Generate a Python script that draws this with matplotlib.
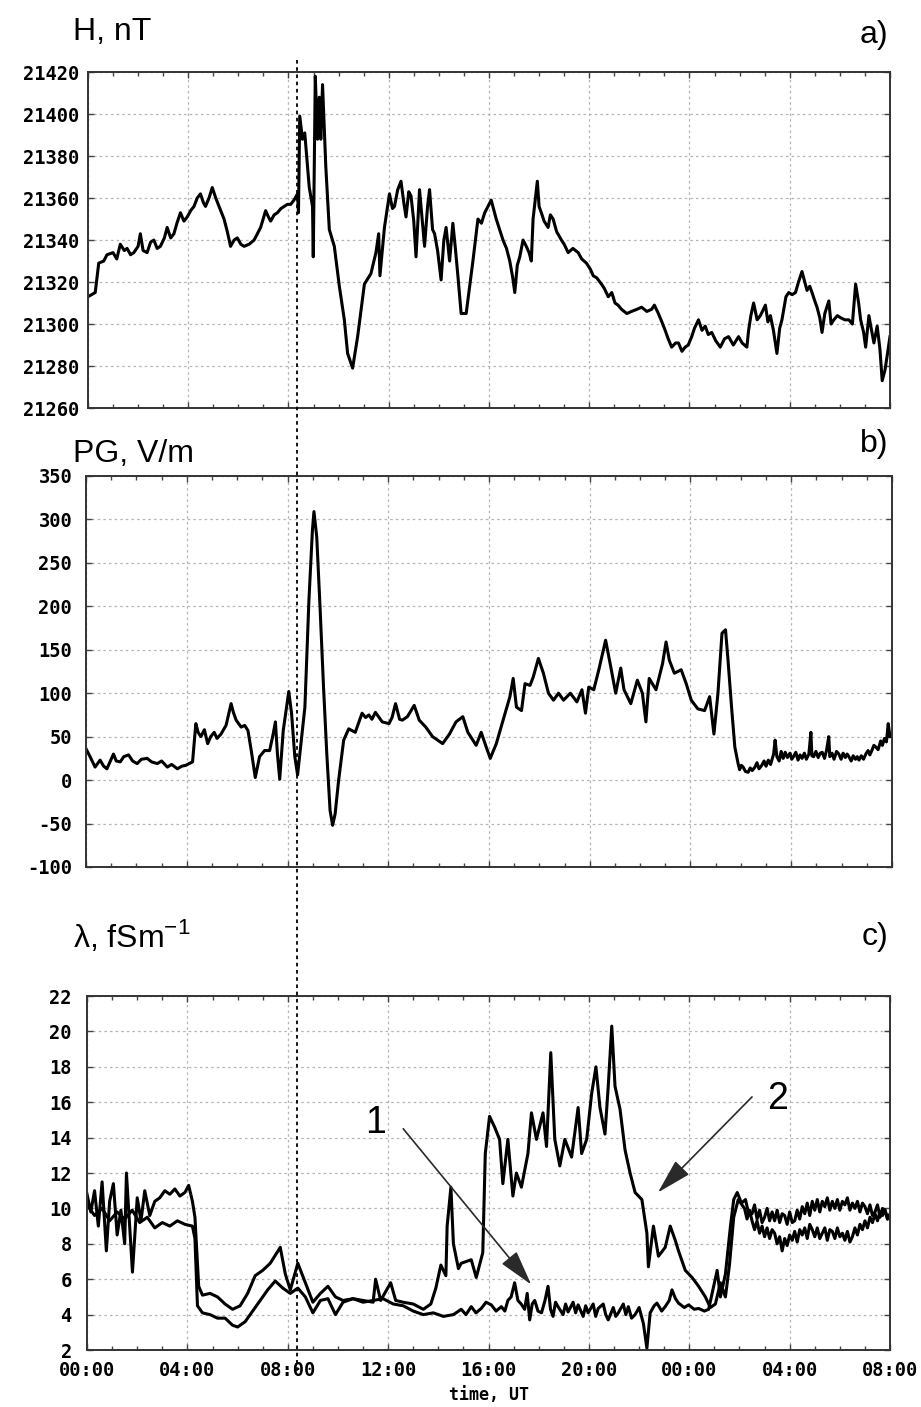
import matplotlib
matplotlib.use('Agg')
import matplotlib.pyplot as plt
import matplotlib.transforms as mtransforms
from matplotlib.lines import Line2D

plt.rcParams['font.family'] = ['Liberation Sans', 'DejaVu Sans']
plt.rcParams['mathtext.fontset'] = 'custom'
plt.rcParams['mathtext.rm'] = 'Liberation Sans'

###############################################################################################
# Data: (hours from 00:00 UT of day 1, value)

# a) H component, nT
h_points = [
    (0.0, 21313), (0.29, 21315), (0.43, 21329), (0.63, 21330), (0.76, 21333), (1.0, 21334),
    (1.15, 21331), (1.29, 21338), (1.45, 21335), (1.56, 21336), (1.7, 21333), (1.83, 21334),
    (2.0, 21337), (2.09, 21343), (2.2, 21335), (2.36, 21334), (2.5, 21339), (2.63, 21340),
    (2.76, 21336), (2.89, 21337), (3.05, 21341), (3.16, 21346), (3.3, 21341), (3.43, 21343),
    (3.55, 21348), (3.69, 21353), (3.83, 21349), (3.96, 21351), (4.1, 21354), (4.23, 21356),
    (4.36, 21360), (4.49, 21362), (4.6, 21358), (4.69, 21356), (4.83, 21360), (4.96, 21365),
    (5.1, 21360), (5.23, 21356), (5.43, 21350), (5.56, 21344), (5.69, 21337), (5.83, 21340),
    (5.96, 21341), (6.1, 21338), (6.23, 21337), (6.43, 21338), (6.63, 21340), (6.89, 21346),
    (7.09, 21354), (7.2, 21351), (7.29, 21349), (7.43, 21352), (7.56, 21353), (7.7, 21355),
    (7.83, 21356), (7.96, 21357), (8.09, 21357), (8.22, 21359), (8.36, 21362), (8.40, 21353),
    (8.45, 21399), (8.56, 21388), (8.65, 21391), (8.83, 21365), (8.96, 21356), (8.99, 21332),
    (9.07, 21418), (9.16, 21388), (9.23, 21408), (9.29, 21388), (9.36, 21414), (9.49, 21375),
    (9.63, 21345), (9.83, 21337), (10.03, 21318), (10.23, 21302), (10.36, 21286), (10.56, 21279),
    (10.76, 21294), (11.03, 21319), (11.29, 21324), (11.49, 21334), (11.6, 21343), (11.65, 21323),
    (11.83, 21346), (12.03, 21362), (12.15, 21355), (12.23, 21356), (12.36, 21364), (12.49, 21368),
    (12.6, 21358), (12.69, 21351), (12.8, 21363), (12.89, 21361), (13.0, 21349), (13.09, 21332),
    (13.23, 21364), (13.35, 21348), (13.43, 21337), (13.55, 21356), (13.63, 21364), (13.75, 21345),
    (13.83, 21343), (13.95, 21335), (14.09, 21321), (14.2, 21340), (14.29, 21346), (14.43, 21330),
    (14.56, 21348), (14.66, 21336), (14.76, 21323), (14.89, 21305), (15.09, 21305), (15.36, 21330),
    (15.56, 21350), (15.7, 21348), (15.83, 21353), (16.09, 21359), (16.29, 21350), (16.56, 21340),
    (16.7, 21336), (16.83, 21330), (16.95, 21322), (17.03, 21315), (17.13, 21328), (17.23, 21332),
    (17.36, 21340), (17.49, 21337), (17.6, 21334), (17.69, 21330), (17.76, 21350), (17.93, 21368),
    (18.0, 21356), (18.09, 21353), (18.2, 21349), (18.36, 21346), (18.45, 21352), (18.56, 21350),
    (18.7, 21344), (18.89, 21340), (19.0, 21338), (19.16, 21334), (19.35, 21336), (19.56, 21334),
    (19.7, 21331), (19.89, 21329), (20.05, 21326), (20.16, 21323), (20.3, 21322), (20.49, 21319),
    (20.6, 21317), (20.76, 21313), (20.9, 21315), (21.03, 21310), (21.15, 21309), (21.29, 21307),
    (21.5, 21305), (21.69, 21306), (21.9, 21307), (22.09, 21308), (22.3, 21306), (22.49, 21307),
    (22.6, 21309), (22.76, 21305), (22.9, 21301), (23.03, 21297), (23.15, 21293), (23.29, 21289),
    (23.45, 21291), (23.56, 21291), (23.7, 21287), (23.83, 21289), (23.95, 21290), (24.09, 21294),
    (24.2, 21298), (24.36, 21302), (24.5, 21297), (24.63, 21299), (24.75, 21295), (24.89, 21296),
    (25.05, 21292), (25.23, 21289), (25.4, 21293), (25.56, 21294), (25.75, 21290), (25.96, 21294),
    (26.1, 21291), (26.29, 21289), (26.36, 21297), (26.45, 21304), (26.56, 21310), (26.7, 21302),
    (26.83, 21304), (26.95, 21307), (27.03, 21309), (27.13, 21301), (27.23, 21304), (27.35, 21297),
    (27.49, 21286), (27.6, 21298), (27.69, 21302), (27.85, 21313), (27.96, 21315), (28.1, 21314),
    (28.23, 21315), (28.35, 21320), (28.49, 21325), (28.6, 21320), (28.69, 21316), (28.8, 21318),
    (28.89, 21315), (29.0, 21311), (29.09, 21308), (29.2, 21303), (29.29, 21296), (29.4, 21305),
    (29.56, 21311), (29.65, 21300), (29.76, 21302), (29.9, 21304), (30.03, 21303), (30.2, 21302),
    (30.36, 21302), (30.5, 21300), (30.63, 21319), (30.75, 21310), (30.83, 21302), (30.95, 21296),
    (31.03, 21289), (31.16, 21304), (31.25, 21298), (31.36, 21291), (31.49, 21299), (31.6, 21288),
    (31.69, 21273), (31.8, 21278), (31.89, 21285), (32.0, 21294),
]

# b) potential gradient, V/m
pg_points = [
    (0.0, 36), (0.16, 27), (0.36, 15), (0.56, 23), (0.7, 16), (0.83, 13), (1.0, 24), (1.09, 30),
    (1.2, 22), (1.36, 21), (1.5, 27), (1.69, 29), (1.85, 22), (2.03, 19), (2.2, 24), (2.43, 25),
    (2.6, 21), (2.83, 19), (3.0, 22), (3.23, 15), (3.4, 18), (3.63, 13), (3.8, 16), (3.96, 17),
    (4.23, 21), (4.36, 65), (4.45, 55), (4.56, 50), (4.7, 58), (4.83, 42), (4.95, 50), (5.09, 55),
    (5.2, 48), (5.36, 53), (5.56, 63), (5.76, 88), (5.85, 78), (5.96, 69), (6.16, 61), (6.3, 63),
    (6.43, 57), (6.56, 34), (6.72, 3), (6.89, 27), (7.09, 34), (7.29, 34), (7.43, 53), (7.52, 67),
    (7.60, 30), (7.69, 1), (7.83, 57), (7.96, 84), (8.05, 102), (8.16, 77), (8.29, 27), (8.40, 6),
    (8.49, 30), (8.69, 84), (8.85, 207), (8.99, 288), (9.05, 309), (9.16, 280), (9.29, 200),
    (9.43, 107), (9.56, 30), (9.69, -35), (9.79, -52), (9.89, -39), (10.03, 0), (10.23, 46),
    (10.43, 59), (10.69, 55), (10.96, 77), (11.1, 72), (11.23, 75), (11.35, 70), (11.49, 78),
    (11.76, 67), (12.03, 65), (12.15, 72), (12.29, 88), (12.45, 70), (12.56, 69), (12.76, 73),
    (13.03, 86), (13.23, 69), (13.49, 61), (13.76, 50), (13.96, 46), (14.16, 42), (14.43, 53),
    (14.69, 67), (14.96, 73), (15.16, 55), (15.36, 46), (15.49, 40), (15.69, 55), (15.89, 38),
    (16.05, 25), (16.29, 42), (16.56, 69), (16.83, 96), (16.96, 117), (17.09, 84), (17.29, 80),
    (17.43, 111), (17.63, 109), (17.76, 119), (17.96, 140), (18.16, 123), (18.36, 100), (18.56, 92),
    (18.76, 100), (18.96, 92), (19.23, 100), (19.49, 90), (19.69, 104), (19.83, 77), (19.96, 107),
    (20.16, 104), (20.36, 127), (20.63, 161), (20.83, 131), (21.03, 100), (21.23, 129), (21.36, 104),
    (21.63, 88), (21.89, 115), (22.09, 100), (22.23, 67), (22.36, 117), (22.63, 104), (22.89, 134),
    (23.03, 159), (23.16, 138), (23.36, 123), (23.63, 127), (23.83, 111), (24.03, 92), (24.29, 82),
    (24.56, 80), (24.76, 96), (24.93, 53), (25.09, 100), (25.25, 169), (25.39, 173), (25.49, 138),
    (25.63, 84), (25.76, 38), (25.89, 19), (25.95, 12), (26.02, 17), (26.09, 15), (26.18, 10),
    (26.29, 9), (26.37, 14), (26.45, 11), (26.56, 15), (26.64, 20), (26.72, 13), (26.83, 17),
    (26.92, 22), (27.0, 16), (27.09, 23), (27.18, 18), (27.3, 30), (27.36, 46), (27.43, 27),
    (27.52, 22), (27.6, 33), (27.68, 25), (27.76, 32), (27.85, 26), (27.95, 31), (28.02, 24),
    (28.09, 27), (28.18, 32), (28.27, 23), (28.35, 29), (28.43, 25), (28.52, 31), (28.6, 24),
    (28.7, 30), (28.78, 55), (28.82, 28), (28.89, 27), (28.98, 33), (29.07, 26), (29.15, 31),
    (29.23, 32), (29.32, 25), (29.4, 34), (29.49, 50), (29.53, 27), (29.62, 31), (29.7, 24),
    (29.8, 33), (29.89, 30), (29.98, 24), (30.06, 31), (30.15, 26), (30.22, 30), (30.29, 27),
    (30.38, 22), (30.46, 28), (30.55, 24), (30.62, 27), (30.69, 23), (30.78, 28), (30.87, 24),
    (30.96, 30), (31.05, 34), (31.12, 29), (31.2, 34), (31.28, 40), (31.36, 38), (31.45, 35),
    (31.55, 45), (31.62, 40), (31.7, 48), (31.78, 44), (31.85, 65), (31.92, 50), (32.0, 53),
]

# c) air conductivity, fS/m, curve 1
lam1_points = [
    (0.0, 10.2), (0.3, 9.6), (0.6, 10.0), (0.9, 9.3), (1.2, 9.8), (1.5, 9.4), (1.8, 9.9), (2.1, 9.2),
    (2.4, 9.5), (2.7, 8.9), (3.0, 9.2), (3.3, 9.0), (3.6, 9.3), (3.9, 9.1), (4.2, 9.0), (4.3, 8.3),
    (4.4, 4.5), (4.6, 4.1), (4.9, 4.0), (5.2, 3.8), (5.5, 3.8), (5.8, 3.4), (6.0, 3.3), (6.3, 3.6),
    (6.6, 4.2), (6.9, 4.8), (7.2, 5.4), (7.5, 5.9), (7.8, 5.5), (8.1, 5.2), (8.4, 5.5), (8.7, 5.0),
    (9.0, 4.1), (9.3, 4.8), (9.6, 4.9), (9.9, 4.0), (10.2, 4.7), (10.6, 4.9), (11.0, 4.7),
    (11.4, 4.8), (11.8, 4.9), (12.2, 4.6), (12.6, 4.5), (13.0, 4.2), (13.4, 4.0), (13.8, 4.1),
    (14.2, 3.9), (14.6, 4.0), (14.91, 4.3), (15.1, 4.0), (15.31, 4.45), (15.5, 4.1), (15.71, 4.35),
    (15.9, 4.7), (16.11, 4.55), (16.3, 4.2), (16.51, 4.45), (16.65, 4.2), (16.77, 4.8), (16.9, 5.0),
    (17.04, 5.8), (17.17, 4.8), (17.3, 4.6), (17.44, 4.3), (17.54, 5.2), (17.64, 3.7), (17.74, 4.6),
    (17.84, 4.8), (17.97, 4.2), (18.11, 4.1), (18.25, 4.8), (18.37, 5.6), (18.47, 4.3), (18.57, 3.9),
    (18.67, 4.7), (18.77, 4.45), (18.97, 4.0), (19.07, 4.6), (19.17, 4.15), (19.37, 4.7),
    (19.47, 4.1), (19.57, 4.55), (19.77, 3.9), (19.87, 4.5), (19.97, 4.1), (20.17, 4.6),
    (20.27, 3.9), (20.37, 4.35), (20.57, 4.6), (20.67, 4.0), (20.77, 3.7), (20.97, 4.4), (21.07, 3.9),
    (21.17, 4.1), (21.37, 4.6), (21.47, 4.0), (21.57, 4.45), (21.7, 3.8), (21.84, 4.0), (22.0, 4.4),
    (22.17, 3.5), (22.31, 2.1), (22.44, 4.1), (22.6, 4.5), (22.71, 4.65), (22.9, 4.2), (23.04, 4.45),
    (23.2, 4.8), (23.31, 5.4), (23.45, 4.9), (23.57, 4.65), (23.8, 4.4), (23.97, 4.55), (24.2, 4.3),
    (24.37, 4.35), (24.6, 4.2), (24.77, 4.3), (24.91, 5.2), (25.11, 6.5), (25.24, 5.0), (25.44, 6.3),
    (25.64, 9.0), (25.77, 10.5), (25.91, 10.9), (26.08, 10.3), (26.24, 10.5), (26.35, 9.8),
    (26.5, 9.7), (26.6, 10.2), (26.7, 9.4), (26.8, 9.9), (26.9, 9.2), (27.0, 9.5), (27.1, 10.0),
    (27.2, 9.3), (27.3, 9.8), (27.4, 9.3), (27.5, 9.9), (27.6, 9.2), (27.7, 9.7), (27.8, 9.6),
    (27.9, 9.1), (28.0, 9.8), (28.1, 9.2), (28.2, 9.3), (28.3, 9.9), (28.4, 9.4), (28.5, 10.1),
    (28.6, 9.7), (28.7, 10.3), (28.8, 9.6), (28.9, 10.4), (29.0, 9.9), (29.1, 10.5), (29.2, 9.8),
    (29.3, 10.4), (29.4, 10.1), (29.5, 10.6), (29.6, 9.9), (29.7, 10.4), (29.8, 10.0), (29.9, 10.5),
    (30.0, 9.9), (30.1, 10.4), (30.2, 10.2), (30.3, 10.6), (30.4, 9.9), (30.5, 10.3), (30.6, 10.0),
    (30.7, 10.4), (30.8, 9.8), (30.9, 10.3), (31.0, 10.1), (31.1, 9.7), (31.2, 10.2), (31.3, 9.6),
    (31.4, 9.8), (31.5, 10.2), (31.6, 9.5), (31.7, 10.0), (31.8, 9.9), (31.9, 9.4), (32.0, 9.7),
]

# c) air conductivity, fS/m, curve 2
lam2_points = [
    (0.0, 10.8), (0.15, 9.8), (0.3, 11.0), (0.45, 9.0), (0.6, 11.5), (0.77, 7.6), (0.9, 10.4),
    (1.05, 11.4), (1.2, 8.5), (1.35, 9.9), (1.5, 8.0), (1.57, 12.0), (1.7, 9.0), (1.81, 6.4),
    (2.0, 10.6), (2.15, 9.3), (2.3, 11.0), (2.5, 9.6), (2.7, 10.4), (2.9, 10.6), (3.1, 11.0),
    (3.3, 10.8), (3.5, 11.1), (3.7, 10.7), (3.9, 10.9), (4.05, 11.3), (4.2, 10.4), (4.3, 9.5),
    (4.45, 5.6), (4.6, 5.1), (4.9, 5.2), (5.2, 5.0), (5.5, 4.6), (5.8, 4.3), (6.1, 4.5), (6.4, 5.2),
    (6.7, 6.2), (7.0, 6.5), (7.3, 6.9), (7.7, 7.8), (7.9, 6.3), (8.1, 5.4), (8.4, 6.9), (8.7, 5.8),
    (9.0, 4.7), (9.3, 5.2), (9.6, 5.6), (9.9, 5.0), (10.2, 4.8), (10.6, 4.9), (11.0, 4.8),
    (11.4, 4.7), (11.5, 6.0), (11.7, 4.8), (12.1, 5.8), (12.3, 4.8), (12.6, 4.7), (13.0, 4.6),
    (13.4, 4.3), (13.7, 4.6), (13.9, 5.5), (14.1, 6.8), (14.3, 6.2), (14.35, 9.0), (14.5, 11.2),
    (14.6, 8.0), (14.8, 6.6), (14.91, 6.9), (15.31, 7.1), (15.51, 6.1), (15.77, 7.5), (15.87, 13.1),
    (16.04, 15.2), (16.24, 14.6), (16.44, 13.9), (16.57, 11.4), (16.77, 13.9), (16.97, 10.7),
    (17.11, 12.0), (17.31, 11.2), (17.57, 13.1), (17.71, 15.4), (17.91, 13.9), (18.17, 15.4),
    (18.31, 13.5), (18.48, 18.8), (18.64, 13.9), (18.84, 12.4), (19.04, 13.9), (19.31, 12.9),
    (19.57, 15.7), (19.71, 13.1), (19.91, 13.9), (20.11, 16.5), (20.28, 18.0), (20.44, 15.7),
    (20.64, 14.2), (20.77, 16.9), (20.91, 20.3), (21.04, 16.9), (21.24, 15.6), (21.44, 13.3),
    (21.64, 12.0), (21.84, 10.9), (22.11, 10.5), (22.31, 8.6), (22.37, 6.7), (22.57, 9.0),
    (22.77, 7.3), (23.04, 7.8), (23.24, 9.0), (23.44, 8.2), (23.57, 7.6), (23.84, 6.5), (24.11, 6.1),
    (24.37, 5.6), (24.64, 5.0), (24.84, 4.4), (25.04, 4.6), (25.24, 5.8), (25.44, 5.0), (25.6, 6.8),
    (25.77, 9.5), (25.95, 10.5), (26.2, 10.0), (26.3, 9.4), (26.4, 9.9), (26.5, 9.3), (26.6, 8.8),
    (26.7, 9.3), (26.8, 8.6), (26.9, 9.0), (27.0, 8.4), (27.1, 8.9), (27.2, 8.3), (27.3, 8.8),
    (27.4, 8.6), (27.5, 8.0), (27.6, 8.4), (27.7, 7.6), (27.8, 8.3), (27.9, 7.9), (28.0, 8.5),
    (28.1, 8.2), (28.2, 8.7), (28.3, 8.1), (28.4, 8.8), (28.5, 8.5), (28.6, 8.9), (28.7, 8.3),
    (28.8, 9.1), (28.9, 8.8), (29.0, 8.4), (29.1, 8.9), (29.2, 8.3), (29.3, 8.6), (29.4, 8.9),
    (29.5, 8.2), (29.6, 8.8), (29.7, 8.7), (29.8, 8.3), (29.9, 8.9), (30.0, 8.4), (30.1, 8.6),
    (30.2, 8.2), (30.3, 8.7), (30.4, 8.1), (30.5, 8.4), (30.6, 8.9), (30.7, 8.5), (30.8, 9.1),
    (30.9, 8.8), (31.0, 9.3), (31.1, 8.9), (31.2, 9.5), (31.3, 9.2), (31.4, 9.7), (31.5, 9.3),
    (31.6, 9.8), (31.7, 9.6), (31.8, 9.9), (31.9, 9.4), (32.0, 9.6),
]

# Axis ticks and labels
time_ticks = [0, 4, 8, 12, 16, 20, 24, 28, 32]
time_labels = ['00:00', '04:00', '08:00', '12:00', '16:00', '20:00', '00:00', '04:00', '08:00']
h_ticks = [21260, 21280, 21300, 21320, 21340, 21360, 21380, 21400, 21420]
pg_ticks = [-100, -50, 0, 50, 100, 150, 200, 250, 300, 350]
lam_ticks = [2, 4, 6, 8, 10, 12, 14, 16, 18, 20, 22]

event_hour = 8.35

###############################################################################################
# Plot

fig = plt.figure(figsize=(9.21, 14.07), dpi=100)
ax_a = fig.add_axes([0.0955, 0.7100, 0.8708, 0.2388])
ax_b = fig.add_axes([0.0934, 0.3838, 0.8751, 0.2779])
ax_c = fig.add_axes([0.0945, 0.0405, 0.8719, 0.2516])

tick_font = dict(family='DejaVu Sans Mono', weight='bold', size=13.5)


def style(ax, yticks, pad):
    ax.set_xlim(0, 32)
    ax.set_ylim(yticks[0], yticks[-1])
    ax.set_xticks(time_ticks)
    ax.set_xticks(range(0, 33), minor=True)
    ax.set_yticks(yticks)
    ax.set_yticklabels([str(t) for t in yticks], fontdict=tick_font)
    ax.grid(True, which='major', color='#b4b4b4', linestyle=(0, (2, 2.5)), linewidth=0.9)
    ax.tick_params(which='major', direction='in', top=True, right=True, length=4, width=1.0,
                   color='#444444', pad=pad)
    ax.tick_params(which='minor', direction='in', top=True, bottom=True, length=3, width=1.0,
                   color='#444444')
    for s in ax.spines.values():
        s.set_linewidth(1.4)
        s.set_color('#333333')


style(ax_a, h_ticks, 6)
style(ax_b, pg_ticks, 10)
style(ax_c, lam_ticks, 11)
ax_a.tick_params(labelbottom=False)
ax_b.tick_params(labelbottom=False)
ax_c.set_xticklabels(time_labels, fontdict=tick_font)
ax_c.tick_params(axis='x', pad=8)
ax_c.set_xlabel('time, UT', fontdict=dict(family='DejaVu Sans Mono', weight='bold', size=12),
                labelpad=4)

for ax, pts in [(ax_a, h_points), (ax_b, pg_points), (ax_c, lam1_points), (ax_c, lam2_points)]:
    t, v = zip(*pts)
    ax.plot(t, v, color='black', lw=2.2)

# Curve labels with arrows
arrow_style = dict(arrowstyle='-|>,head_length=1.1,head_width=0.3', color='#2a2a2a', lw=1.2,
                   mutation_scale=20, shrinkA=0, shrinkB=0)
ax_c.annotate('', xy=(17.7, 5.7), xytext=(12.6, 14.5), arrowprops=arrow_style)
ax_c.annotate('', xy=(22.75, 10.9), xytext=(26.5, 16.3), arrowprops=arrow_style)
ax_c.text(11.5, 14.8, '1', fontsize=27, ha='center', va='center')
ax_c.text(27.5, 16.2, '2', fontsize=27, ha='center', va='center')

# Panel titles
fig.text(73 / 921, 1 - 40 / 1407, 'H, nT', fontsize=23, va='baseline')
fig.text(73 / 921, 1 - 462 / 1407, 'PG, V/m', fontsize=23, va='baseline')
fig.text(73 / 921, 1 - 947 / 1407, r'λ, fSm$^{\mathregular{-1}}$', fontsize=23, va='baseline')
fig.text(888 / 921, 1 - 43 / 1407, 'a)', fontsize=23, va='baseline', ha='right')
fig.text(888 / 921, 1 - 452 / 1407, 'b)', fontsize=23, va='baseline', ha='right')
fig.text(888 / 921, 1 - 945 / 1407, 'c)', fontsize=23, va='baseline', ha='right')

# Event marker running through all panels
trans = mtransforms.blended_transform_factory(ax_c.transData, fig.transFigure)
fig.add_artist(Line2D([event_hour, event_hour], [1 - 60 / 1407, 1 - 1372 / 1407], transform=trans,
                      color='black', linestyle=(0, (2, 2)), lw=1.3, zorder=10))

fig.savefig('out.png', dpi=100)
